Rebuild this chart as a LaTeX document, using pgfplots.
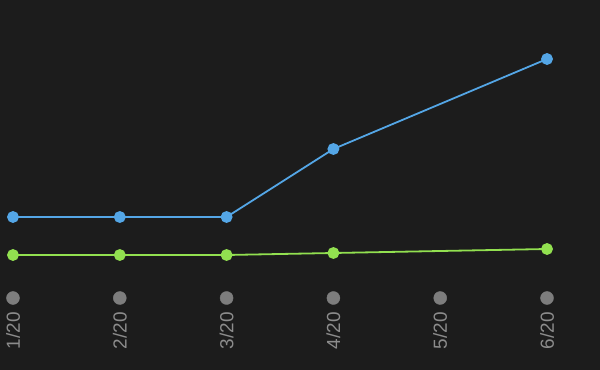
\documentclass[border=0pt]{standalone}
\usepackage{fontspec}
\setmainfont{Liberation Sans}
\usepackage{pgfplots}
\pgfplotsset{compat=1.18}
\definecolor{bg}{RGB}{28,28,28}
\definecolor{lblue}{RGB}{84,166,230}
\definecolor{lgreen}{RGB}{146,224,80}
\definecolor{dotgrey}{RGB}{125,125,125}
\definecolor{lblgrey}{RGB}{140,140,140}
\begin{document}
\begin{tikzpicture}
\begin{axis}[
  scale only axis, width=600bp, height=370bp,
  xmin=0.8783, xmax=6.4963, ymin=-58, ymax=312,
  axis x line=middle, axis y line=none,
  axis line style={draw=none}, major tick length=0pt,
  hide obscured x ticks=false,
  axis background/.style={fill=bg},
  xtick={1,2,3,4,5,6},
  xticklabels={1/20,2/20,3/20,4/20,5/20,6/20},
  xticklabel style={rotate=90, anchor=east, inner sep=0pt, text=lblgrey, font=\fontsize{19}{22}\selectfont},
  ytick=\empty,
  clip=false,
]
\addplot[only marks, mark=*, mark size=6.5bp, dotgrey, mark options={draw=none,fill=dotgrey}] coordinates {(1,14) (2,14) (3,14) (4,14) (5,14) (6,14)};
\addplot[lblue, line width=1.8bp, mark=*, mark size=5bp, mark options={draw=none, fill=lblue}] coordinates {(1,95) (2,95) (3,95) (4,163) (6,253)};
\addplot[lgreen, line width=1.8bp, mark=*, mark size=5bp, mark options={draw=none, fill=lgreen}] coordinates {(1,57) (2,57) (3,57) (4,59) (6,63)};
\end{axis}
\end{tikzpicture}
\end{document}
